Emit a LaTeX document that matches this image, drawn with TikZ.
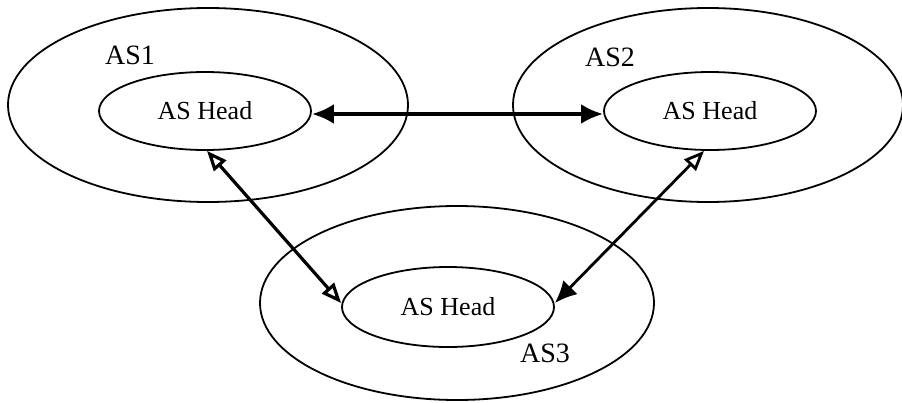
\documentclass[tikz,border=0pt]{standalone}
\usepackage{fontspec}
\setmainfont{Liberation Serif}
\usetikzlibrary{arrows.meta,shapes.geometric}
\begin{document}
\begin{tikzpicture}[x=1pt,y=-1pt,
  outerell/.style={draw, ellipse, line width=1.8pt, inner sep=0pt, minimum width=#1},
  headell/.style={draw, ellipse, line width=1.8pt, inner sep=0pt, minimum width=212pt, minimum height=78pt, font=\fontsize{26}{28}\selectfont},
  aslabel/.style={font=\fontsize{28}{30}\selectfont, inner sep=0pt},
  fullarrow/.style={line width=4pt, {Latex[length=22pt,width=20pt]}-{Latex[length=22pt,width=20pt]}},
  openarrow/.style={line width=3.2pt, {Triangle[open,length=20pt,width=16pt]}-{Triangle[open,length=20pt,width=16pt]}},
  mixarrow/.style={line width=2.8pt, {Triangle[open,length=20pt,width=16pt]}-{Latex[length=22pt,width=20pt]}}
]
\useasboundingbox (0,0) rectangle (902,402);
\fill[white] (0,0) rectangle (902,402);
% outer ellipses
\node[outerell=400pt, minimum height=194pt] (as1) at (208,105) {};
\node[outerell=390pt, minimum height=194pt] (as2) at (708,105) {};
\node[outerell=394pt, minimum height=194pt] (as3) at (457,303) {};
% labels
\node[aslabel] (l1) at (130,55) {AS1};
\node[aslabel] (l2) at (610,57) {AS2};
\node[aslabel] (l3) at (545,353) {AS3};
% heads
\node[headell] (h1) at (205,111) {AS Head};
\node[headell] (h2) at (710,111) {AS Head};
\node[headell, minimum height=80pt] (h3) at (448,307) {AS Head};
% connectors
\draw[fullarrow] ([yshift=-3pt]h1.east) -- ([yshift=-3pt]h2.west);
\draw[openarrow] ([xshift=2pt]h1.south) -- ([yshift=4pt]h3.west);
\draw[mixarrow] ([xshift=-6pt]h2.south) -- ([yshift=4pt]h3.east);
\end{tikzpicture}
\end{document}
